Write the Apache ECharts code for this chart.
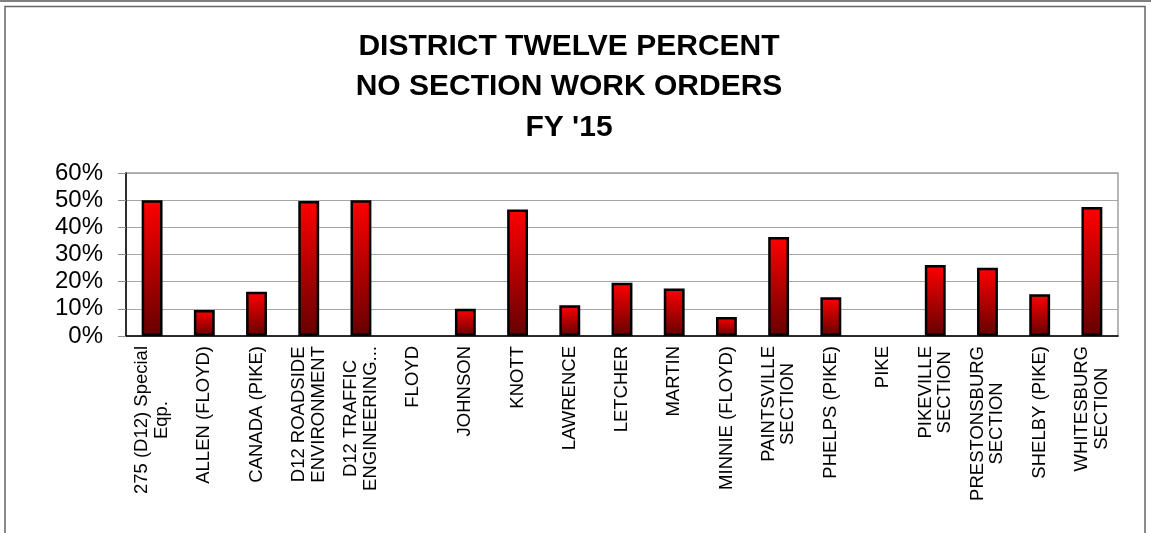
<!DOCTYPE html>
<html>
<head>
<meta charset="utf-8">
<script src="https://cdn.jsdelivr.net/npm/echarts@6/dist/echarts.min.js"></script>
<style>
  html, body { margin: 0; padding: 0; background: #fff; }
  #chart { width: 1151px; height: 533px; }
</style>
</head>
<body>
<div id="chart"></div>
<script>
const titleLines = ['DISTRICT TWELVE PERCENT', 'NO SECTION WORK ORDERS', "FY '15"];

const categories = [
  '275 (D12) Special\nEqp.',
  'ALLEN (FLOYD)',
  'CANADA (PIKE)',
  'D12 ROADSIDE\nENVIRONMENT',
  'D12 TRAFFIC\nENGINEERING...',
  'FLOYD',
  'JOHNSON',
  'KNOTT',
  'LAWRENCE',
  'LETCHER',
  'MARTIN',
  'MINNIE (FLOYD)',
  'PAINTSVILLE\nSECTION',
  'PHELPS (PIKE)',
  'PIKE',
  'PIKEVILLE\nSECTION',
  'PRESTONSBURG\nSECTION',
  'SHELBY (PIKE)',
  'WHITESBURG\nSECTION'
];

// percent of work orders with no section
const percentValues = [50, 9.6, 16.3, 49.7, 50, 0, 10, 46.6, 11.3, 19.6, 17.5, 7, 36.4, 14.3, 0, 26.1, 25.1, 15.4, 47.5];

const yTicks = { min: 0, max: 60, interval: 10 };

const chart = echarts.init(document.getElementById('chart'));

const font = 'Arial, "Liberation Sans", sans-serif';

// empty bars get no outline, like the original
const barData = percentValues.map(function (v) {
  return v === 0 ? { value: v, itemStyle: { borderWidth: 0 } } : v;
});

const option = {
  animation: false,
  title: {
    text: titleLines.join('\n'),
    left: 564,
    top: 21,
    textAlign: 'center',
    textStyle: {
      fontFamily: font,
      fontSize: 30,
      fontWeight: 'bold',
      lineHeight: 40.5,
      color: '#000'
    }
  },
  graphic: [
    {
      type: 'line',
      shape: { x1: 0, y1: 1, x2: 1151, y2: 1 },
      style: { stroke: '#555', lineWidth: 1.5 },
      silent: true
    },
    {
      type: 'rect',
      shape: { x: 5, y: 6.5, width: 1140, height: 540 },
      style: { fill: 'none', stroke: '#666', lineWidth: 1.5 },
      silent: true
    }
  ],
  grid: {
    left: 126,
    right: 33,
    top: 173,
    bottom: 197,
    show: true,
    borderColor: '#a0a0a0',
    borderWidth: 1.5
  },
  xAxis: {
    type: 'category',
    data: categories,
    axisLine: { lineStyle: { color: '#000', width: 1.5 } },
    axisTick: { length: 6, lineStyle: { color: '#909090' } },
    axisLabel: {
      rotate: 90,
      interval: 0,
      margin: 10,
      color: '#000',
      fontFamily: font,
      fontSize: 18.5,
      lineHeight: 19.5,
      formatter: function (v) {
        return v.split('\n').map(function (s) { return '{c|' + s + '}'; }).join('\n');
      },
      rich: {
        c: { align: 'center', fontFamily: font, fontSize: 18.5, lineHeight: 19.5, color: '#000' }
      }
    }
  },
  yAxis: {
    type: 'value',
    min: yTicks.min,
    max: yTicks.max,
    interval: yTicks.interval,
    axisLine: { show: true, lineStyle: { color: '#000', width: 1.5 } },
    axisTick: { show: true, length: 8, lineStyle: { color: '#909090' } },
    splitLine: { lineStyle: { color: '#a6a6a6', width: 1 } },
    axisLabel: {
      formatter: '{value}%',
      color: '#000',
      fontFamily: font,
      fontSize: 24,
      margin: 23
    }
  },
  series: [
    {
      type: 'bar',
      data: barData,
      barWidth: '40%',
      itemStyle: {
        color: new echarts.graphic.LinearGradient(0, 0, 0, 1, [
          { offset: 0, color: '#ff0000' },
          { offset: 1, color: '#650000' }
        ]),
        borderColor: '#000',
        borderWidth: 2.5
      }
    }
  ]
};

chart.setOption(option);
</script>
</body>
</html>
